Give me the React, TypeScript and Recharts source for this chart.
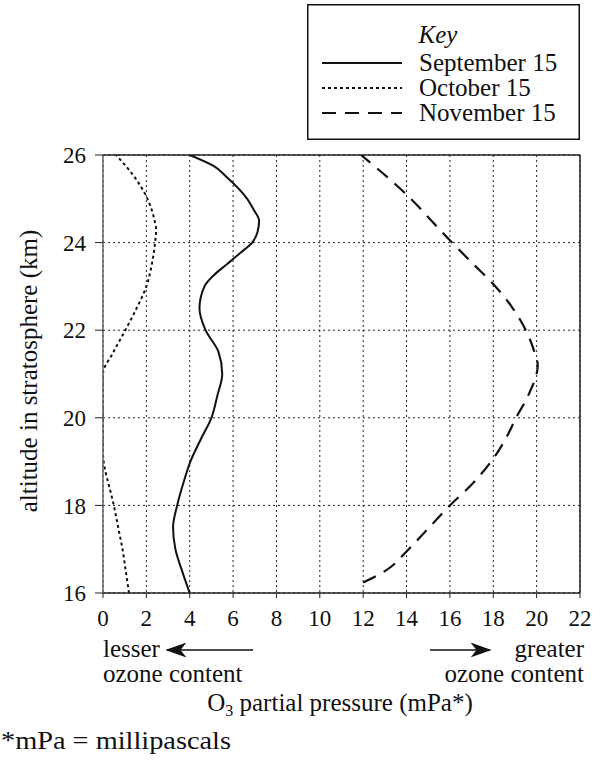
import React from "react";
import {
  CartesianGrid,
  Legend,
  Line,
  LineChart,
  ReferenceLine,
  XAxis,
  YAxis,
} from "recharts";

const FONT = '"Liberation Serif", "Times New Roman", serif';

// altitude (km) / O3 partial pressure (mPa)
const septAlt = [16, 16.5, 17, 17.5, 18, 18.5, 19, 19.5, 20, 20.5, 21, 21.5, 22, 22.5, 23, 23.25, 23.5, 23.75, 24, 24.25, 24.5, 24.75, 25, 25.5, 25.75, 26];
const septO3 = [4.0, 3.65, 3.34, 3.23, 3.42, 3.7, 4.03, 4.5, 5.0, 5.27, 5.5, 5.33, 4.73, 4.45, 4.68, 5.1, 5.7, 6.3, 6.88, 7.13, 7.2, 6.95, 6.65, 5.7, 5.1, 4.0];

const octAlt = [16, 16.5, 17, 17.5, 18, 18.5, 18.8, 19.2, 20, 21, 21.5, 22, 22.5, 23, 23.5, 24, 24.3, 24.5, 25, 25.5, 26];
const octO3 = [1.2, 1.05, 0.9, 0.7, 0.5, 0.25, 0.1, 0, 0, 0, 0.48, 1.03, 1.55, 2.0, 2.25, 2.4, 2.45, 2.38, 2.05, 1.45, 0.6];

const novAlt = [16.24, 16.5, 17, 17.5, 18, 18.5, 19, 19.5, 20, 20.5, 21.2, 21.5, 22, 22.5, 23, 23.5, 24, 24.5, 25, 25.5, 26];
const novO3 = [12.0, 13.0, 14.1, 15.05, 16.0, 17.05, 17.9, 18.55, 19.05, 19.6, 20.05, 19.9, 19.5, 18.9, 18.1, 17.1, 16.1, 15.15, 14.2, 13.1, 11.9];

const xTicks = [0, 2, 4, 6, 8, 10, 12, 14, 16, 18, 20, 22];
const yTicks = [16, 18, 20, 22, 24, 26];

const toRows = (alt: number[], o3: number[]) =>
  alt.map((a, i) => ({ alt: a, o3: o3[i] }));

const series = [
  { name: "September 15", data: toRows(septAlt, septO3), dash: undefined, width: 2 },
  { name: "October 15", data: toRows(octAlt, octO3), dash: "3 3", width: 2 },
  { name: "November 15", data: toRows(novAlt, novO3), dash: "14 9", width: 2.2 },
];

const TXT = 25;

function KeyBox() {
  return (
    <svg width={273} height={136} style={{ display: "block" }}>
      <rect x={0.75} y={0.75} width={271.5} height={134.5} fill="#fff" stroke="#111" strokeWidth={1.5} />
      <text x={131} y={39} textAnchor="middle" fontFamily={FONT} fontSize={TXT} fontStyle="italic" fill="#111">
        Key
      </text>
      {series.map((s, i) => {
        const y = 59 + i * 25;
        return (
          <g key={s.name}>
            <line x1={15} x2={95} y1={y} y2={y} stroke="#111" strokeWidth={s.width} strokeDasharray={s.dash} />
            <text x={112} y={y + 8} fontFamily={FONT} fontSize={TXT} fill="#111">
              {s.name}
            </text>
          </g>
        );
      })}
    </svg>
  );
}

export default function App() {
  const tickStyle = { fontFamily: FONT, fontSize: 23, fill: "#111" };
  return (
    <div style={{ position: "absolute", left: 0, top: 0, width: 601, height: 766, background: "#fff" }}>
      <LineChart
        width={601}
        height={766}
        layout="vertical"
        margin={{ top: 155, right: 21, bottom: 133, left: 3 }}
      >
        <CartesianGrid stroke="#222" strokeDasharray="2 3" strokeWidth={1} />
        <XAxis
          type="number"
          domain={[0, 22]}
          ticks={xTicks}
          interval={0}
          height={40}
          tick={tickStyle}
          tickSize={5}
          tickMargin={12}
          axisLine={{ stroke: "#222", strokeWidth: 1.5 }}
          tickLine={{ stroke: "#222" }}
          allowDataOverflow
        />
        <YAxis
          type="number"
          dataKey="alt"
          domain={[16, 26]}
          ticks={yTicks}
          interval={0}
          width={100}
          reversed
          tick={tickStyle}
          tickSize={8}
          tickMargin={9}
          axisLine={{ stroke: "#666", strokeWidth: 1.5 }}
          tickLine={{ stroke: "#222" }}
          allowDataOverflow
        />
        <ReferenceLine y={26} stroke="#222" strokeWidth={1.5} />
        <ReferenceLine x={22} stroke="#222" strokeWidth={1.5} />
        {series.map((s) => (
          <Line
            key={s.name}
            name={s.name}
            data={s.data}
            dataKey="o3"
            type="monotoneY"
            stroke="#111"
            strokeWidth={s.width}
            strokeDasharray={s.dash}
            dot={false}
            isAnimationActive={false}
          />
        ))}
        <Legend
          layout="vertical"
          align="center"
          verticalAlign="middle"
          wrapperStyle={{ left: 307, top: 4, width: 273, height: 136 }}
          content={() => <KeyBox />}
        />
      </LineChart>
      <svg
        width={601}
        height={766}
        style={{ position: "absolute", left: 0, top: 0, pointerEvents: "none" }}
      >
        <defs>
          <marker id="head" markerWidth={14} markerHeight={10} refX={13} refY={5} orient="auto">
            <path d="M0,0 L14,5 L0,10 L4,5 Z" fill="#111" />
          </marker>
        </defs>
        <text
          transform="translate(37,371) rotate(-90)"
          textAnchor="middle"
          fontFamily={FONT}
          fontSize={TXT}
          fill="#111"
        >
          altitude in stratosphere (km)
        </text>
        <text x={103} y={657} fontFamily={FONT} fontSize={TXT} fill="#111">lesser</text>
        <line x1={253} y1={650} x2={167} y2={650} stroke="#111" strokeWidth={1.5} markerEnd="url(#head)" />
        <text x={103} y={682} fontFamily={FONT} fontSize={TXT} fill="#111">ozone content</text>
        <line x1={430} y1={650} x2={490} y2={650} stroke="#111" strokeWidth={1.5} markerEnd="url(#head)" />
        <text x={584} y={657} textAnchor="end" fontFamily={FONT} fontSize={TXT} fill="#111">greater</text>
        <text x={584} y={682} textAnchor="end" fontFamily={FONT} fontSize={TXT} fill="#111">ozone content</text>
        <text x={340} y={711} textAnchor="middle" fontFamily={FONT} fontSize={TXT} fill="#111">
          O<tspan fontSize={16} dy={5}>3</tspan>
          <tspan dy={-5}> partial pressure (mPa*)</tspan>
        </text>
        <text x={1} y={749} fontFamily={FONT} fontSize={26} textLength={230} lengthAdjust="spacingAndGlyphs" fill="#111">
          *mPa = millipascals
        </text>
      </svg>
    </div>
  );
}
